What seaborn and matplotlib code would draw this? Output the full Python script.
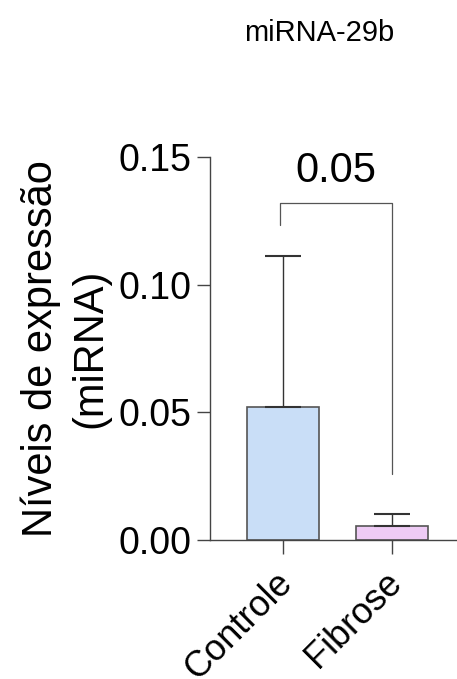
import matplotlib
matplotlib.use("Agg")
import matplotlib.pyplot as plt
import matplotlib.transforms as mtransforms
import seaborn as sns
import pandas as pd

categories = ["Controle", "Fibrose"]
means = [0.0522, 0.0056]
errors = [0.0591, 0.0047]
colors = ["#c9def7", "#eecbf5"]
p_label = "0.05"
title = "miRNA-29b"
ylabel = "Níveis de expressão\n(miRNA)"

sns.set_theme(style="ticks")
plt.rcParams["font.family"] = ["Liberation Sans", "DejaVu Sans"]
plt.rcParams["text.color"] = "black"
plt.rcParams["axes.labelcolor"] = "black"
plt.rcParams["xtick.labelcolor"] = "black"
plt.rcParams["ytick.labelcolor"] = "black"

df = pd.DataFrame({"grupo": categories, "valor": means})

fig = plt.figure(figsize=(4.57, 6.79), dpi=100)
ax = fig.add_axes([0.4595, 0.2047, 0.5405, 0.5641])

sns.barplot(data=df, x="grupo", y="valor", hue="grupo", palette=colors,
            saturation=1, errorbar=None, width=0.666, edgecolor="#555555",
            linewidth=1.2, legend=False, ax=ax)

ax.errorbar(range(len(categories)), means, yerr=[[0, 0], errors], fmt="none",
            ecolor="#333333", elinewidth=1.0, capsize=13, capthick=1.5, zorder=1)

ax.set_ylim(0, 0.15)
ax.set_xlim(-0.67, 1.596)
ax.set_yticks([0.0, 0.05, 0.10, 0.15])
ax.set_yticklabels(["0.00", "0.05", "0.10", "0.15"])
ax.tick_params(axis="y", labelsize=27, length=9.5, width=1.0, color="#444444", pad=4)
ax.tick_params(axis="x", labelsize=26, length=10, width=1.0, color="#444444", pad=3)
offset = mtransforms.ScaledTranslation(-0.08, -0.07, fig.dpi_scale_trans)
for lab in ax.get_xticklabels():
    lab.set_rotation(45)
    lab.set_ha("right")
    lab.set_rotation_mode("anchor")
    lab.set_transform(lab.get_transform() + offset)
ax.set_xlabel("")
ax.set_ylabel(ylabel, fontsize=30, linespacing=1.3, labelpad=6)
for s in ["top", "right"]:
    ax.spines[s].set_visible(False)
for s in ["left", "bottom"]:
    ax.spines[s].set_color("#444444")
    ax.spines[s].set_linewidth(1.0)

# significance bracket
x1, x2 = -0.025, 0.998
ytop = 0.132
ax.plot([x1, x1, x2, x2], [0.1235, ytop, ytop, 0.0259], color="#555555",
        linewidth=0.9, clip_on=False)
ax.text((x1 + x2) / 2, ytop + 0.0045, p_label, ha="center", va="bottom", fontsize=30)

fig.text(0.698, 0.951, title, ha="center", va="center", fontsize=21)

fig.savefig("out.png", dpi=100)
